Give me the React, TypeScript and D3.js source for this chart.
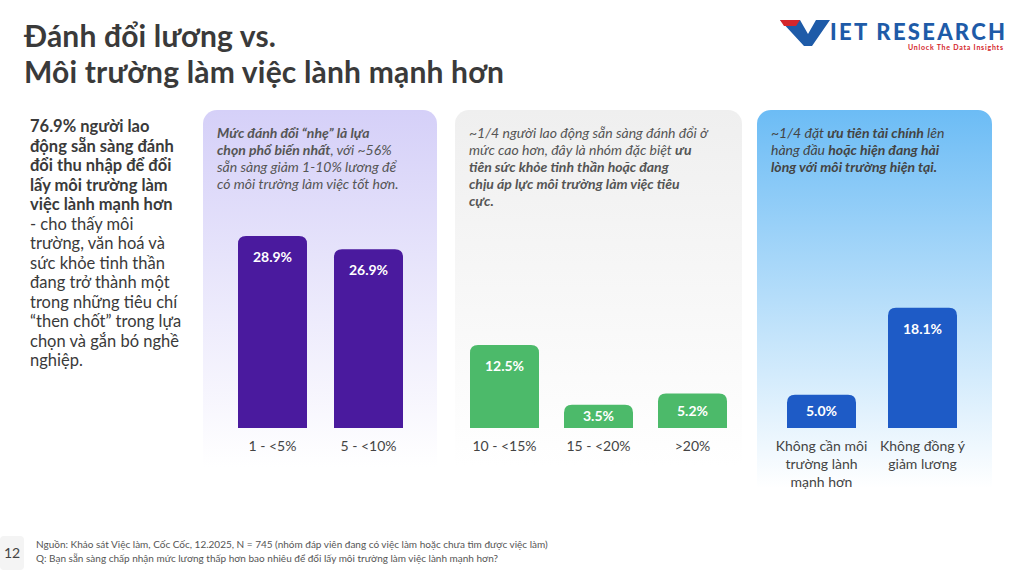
import React from 'react'
import * as d3 from 'd3'

const groups = ['a', 'b', 'c']
const categoriesA = ['1 - <5%', '5 - <10%']
const valuesA = [28.9, 26.9]
const categoriesB = ['10 - <15%', '15 - <20%', '>20%']
const valuesB = [12.5, 3.5, 5.2]
const categoriesC = [['Không cần môi', 'trường lành', 'mạnh hơn'], ['Không đồng ý', 'giảm lương']]
const valuesC = [5.0, 18.1]

const font = 'Lato, "Noto Sans", sans-serif'
const W = 1024
const H = 574
const baseline = 428

const y = d3.scaleLinear().domain([0, 28.9]).range([baseline, 236])

type Seg = { t: string; b?: boolean }
type Line = Seg[]

const Para = ({ x, y0, lh, lines, size, fill, italic }: { x: number; y0: number; lh: number; lines: Line[]; size: number; fill: string; italic?: boolean }) => (
  <text x={x} y={y0} fontSize={size} fill={fill} fontFamily={font} fontStyle={italic ? 'italic' : 'normal'}>
    {lines.map((l, i) => (
      <tspan key={i} x={x} y={y0 + i * lh}>
        {l.map((s, j) => (
          <tspan key={j} fontWeight={s.b ? 700 : 400}>{s.t}</tspan>
        ))}
      </tspan>
    ))}
  </text>
)

const Bars = ({ x0, step, values, labels, color }: { x0: number; step: number; values: number[]; labels: string[][]; color: string }) => {
  const bw = 69
  return (
    <g>
      {values.map((v, i) => {
        const x = x0 + i * step
        const top = y(v)
        const ly = Math.min(top + 26, (top + baseline) / 2 + 5)
        return (
          <g key={i}>
            <path
              d={`M${x},${baseline}V${top + 8}Q${x},${top} ${x + 8},${top}H${x + bw - 8}Q${x + bw},${top} ${x + bw},${top + 8}V${baseline}Z`}
              fill={color}
            />
            <text x={x + bw / 2} y={ly} textAnchor="middle" fill="#fff" fontSize={14} fontWeight={700} fontFamily={font}>
              {v.toFixed(1)}%
            </text>
            {labels[i].map((t, k) => (
              <text key={k} x={x + bw / 2} y={451 + k * 18} textAnchor="middle" fill="#444" fontSize={14} fontFamily={font}>
                {t}
              </text>
            ))}
          </g>
        )
      })}
    </g>
  )
}

export default function App() {
  return (
    <svg width={W} height={H} style={{ position: 'absolute', left: 0, top: 0, background: '#fff' }}>
      <defs>
        <linearGradient id="ga" x1="0" y1="0" x2="0" y2="1">
          <stop offset="0" stopColor="#d5d0f8" />
          <stop offset="0.85" stopColor="#ffffff" />
        </linearGradient>
        <linearGradient id="gb" x1="0" y1="0" x2="0" y2="1">
          <stop offset="0" stopColor="#efefef" />
          <stop offset="0.85" stopColor="#ffffff" />
        </linearGradient>
        <linearGradient id="gc" x1="0" y1="0" x2="0" y2="1">
          <stop offset="0" stopColor="#6cbcf5" />
          <stop offset="0.9" stopColor="#ffffff" />
        </linearGradient>
      </defs>
      <text x={24} y={47} fontSize={30} fontWeight={700} fill="#3a3a3a" fontFamily={font} textLength={252}>Đánh đổi lương vs.</text>
      <text x={24} y={83} fontSize={30} fontWeight={700} fill="#3a3a3a" fontFamily={font} textLength={480}>Môi trường làm việc lành mạnh hơn</text>

      <g>
        <path d="M780,20 L800,20 L808,34 L816,20 L830,20 L812,46 L804,46 Z" fill="#1e5ba8" />
        <path d="M780,20 L800,20 L796,26 L784,26 Z" fill="#d4262b" />
        <text x={830} y={40} fontSize={22} fontWeight={900} fill="#1e5ba8" fontFamily={font} textLength={175}>IET RESEARCH</text>
        <text x={908} y={50} fontSize={7} fontWeight={700} fill="#d4262b" fontFamily={font} textLength={95}>Unlock The Data Insights</text>
      </g>

      <Para x={30} y0={132} lh={19.5} size={16.5} fill="#3a3a3a" lines={[
        [{ t: '76.9% người lao', b: true }],
        [{ t: 'động sẵn sàng đánh', b: true }],
        [{ t: 'đổi thu nhập để đổi', b: true }],
        [{ t: 'lấy môi trường làm', b: true }],
        [{ t: 'việc lành mạnh hơn', b: true }],
        [{ t: '- cho thấy môi' }],
        [{ t: 'trường, văn hoá và' }],
        [{ t: 'sức khỏe tinh thần' }],
        [{ t: 'đang trở thành một' }],
        [{ t: 'trong những tiêu chí' }],
        [{ t: '“then chốt” trong lựa' }],
        [{ t: 'chọn và gắn bó nghề' }],
        [{ t: 'nghiệp.' }],
      ]} />

      {groups.map((g, i) => {
        const px = [203, 455, 757][i]
        const pw = [234, 287, 235][i]
        return <rect key={g} x={px} y={110} width={pw} height={420} rx={14} fill={`url(#g${g})`} />
      })}

      <Para x={217} y0={138} lh={17} size={14} fill="#555" italic lines={[
        [{ t: 'Mức đánh đổi “nhẹ” là lựa', b: true }],
        [{ t: 'chọn phổ biến nhất', b: true }, { t: ', với ~56%' }],
        [{ t: 'sẵn sàng giảm 1-10% lương để' }],
        [{ t: 'có môi trường làm việc tốt hơn.' }],
      ]} />
      <Para x={469} y0={138} lh={17} size={14} fill="#555" italic lines={[
        [{ t: '~1/4 người lao động sẵn sàng đánh đổi ở' }],
        [{ t: 'mức cao hơn, đây là nhóm đặc biệt ' }, { t: 'ưu', b: true }],
        [{ t: 'tiên sức khỏe tinh thần hoặc đang', b: true }],
        [{ t: 'chịu áp lực môi trường làm việc tiêu', b: true }],
        [{ t: 'cực.', b: true }],
      ]} />
      <Para x={771} y0={138} lh={17} size={14} fill="#444" italic lines={[
        [{ t: '~1/4 đặt ' }, { t: 'ưu tiên tài chính', b: true }, { t: ' lên' }],
        [{ t: 'hàng đầu ' }, { t: 'hoặc hiện đang hài', b: true }],
        [{ t: 'lòng với môi trường hiện tại.', b: true }],
      ]} />

      <Bars x0={238} step={96} values={valuesA} labels={categoriesA.map(c => [c])} color="#4a1a9e" />
      <Bars x0={470} step={94} values={valuesB} labels={categoriesB.map(c => [c])} color="#4cba6a" />
      <Bars x0={787} step={101} values={valuesC} labels={categoriesC} color="#1e5bc6" />

      <rect x={0} y={536} width={24} height={34} rx={4} fill="#f4f4f4" />
      <text x={12} y={558} textAnchor="middle" fontSize={14} fill="#444" fontFamily={font}>12</text>
      <text x={36} y={548} fontSize={10} fill="#555" fontFamily={font}>Nguồn: Khảo sát Việc làm, Cốc Cốc, 12.2025, N = 745 (nhóm đáp viên đang có việc làm hoặc chưa tìm được việc làm)</text>
      <text x={36} y={562} fontSize={10} fill="#555" fontFamily={font}>Q: Bạn sẵn sàng chấp nhận mức lương thấp hơn bao nhiêu để đổi lấy môi trường làm việc lành mạnh hơn?</text>
    </svg>
  )
}
